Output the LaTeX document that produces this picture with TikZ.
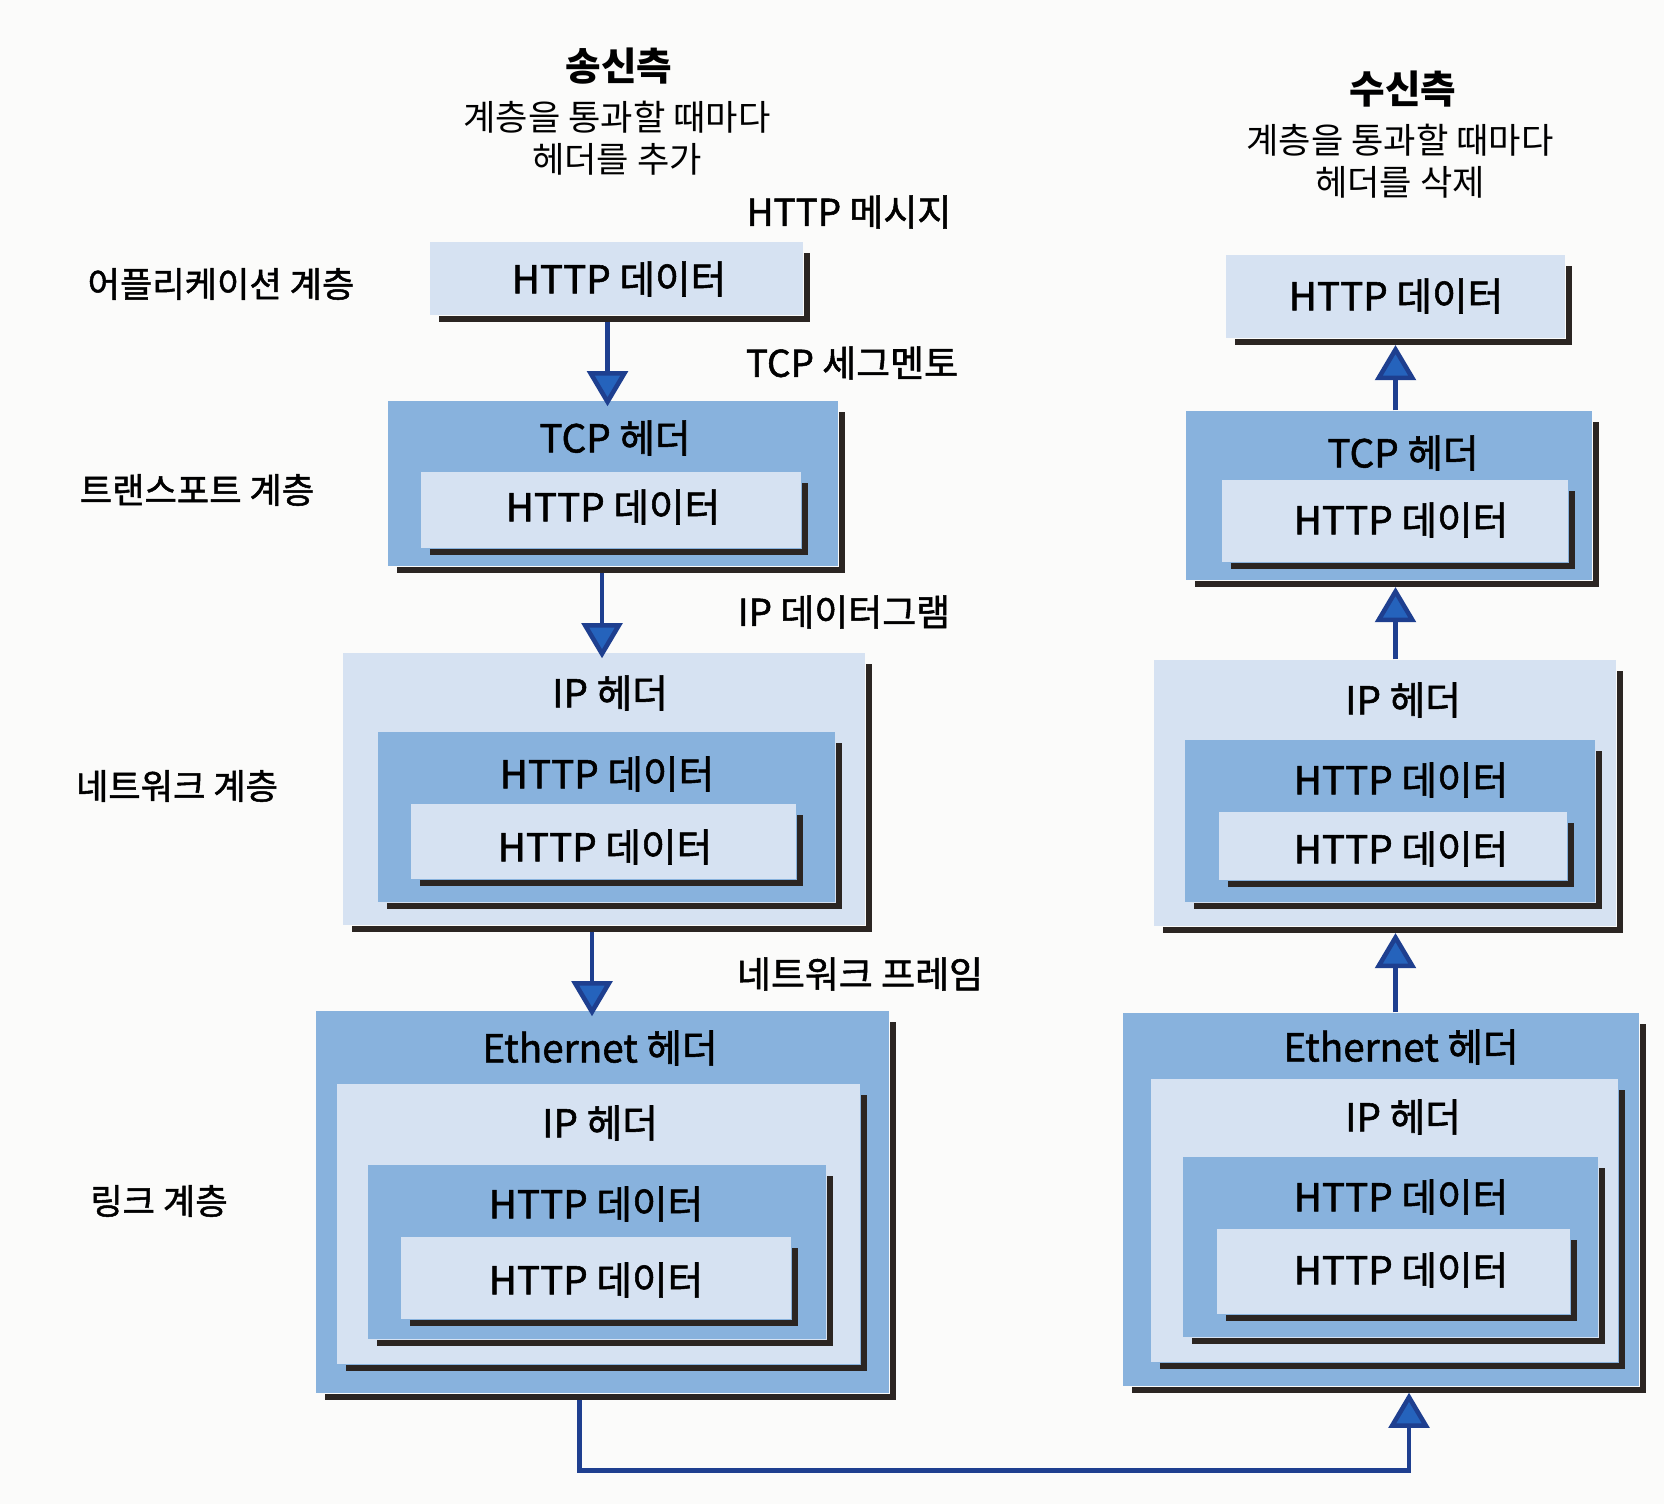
\documentclass[tikz,border=0pt]{standalone}
\usepackage{fontspec}
\setmainfont{Noto Sans CJK KR}
\newfontfamily\heavyfont{Noto Sans CJK KR}[FakeBold=1.4]
\usetikzlibrary{arrows.meta,fit}

\definecolor{midblue}{HTML}{88B2DD}
\definecolor{paleblue}{HTML}{D6E2F2}
\definecolor{shade}{HTML}{2B2522}
\definecolor{wireblue}{HTML}{1E3F8F}
\definecolor{headblue}{HTML}{2563BC}
\definecolor{paper}{HTML}{FBFBFA}

\tikzset{
  midbox/.style={fill=midblue, inner sep=0pt},
  palebox/.style={fill=paleblue, inner sep=0pt},
  shadowline/.style={draw=shade, line width=1.8pt},
  boxtext/.style={font=\heavyfont\fontsize{11}{13}\selectfont},
  layername/.style={font=\heavyfont\fontsize{10}{12}\selectfont},
  pduname/.style={font=\heavyfont\fontsize{10.5}{12}\selectfont},
  sidetitle/.style={font=\fontsize{11}{13}\selectfont\bfseries},
  sidenote/.style={font=\fontsize{10}{12}\selectfont, align=center},
  flow/.style={draw=wireblue, line width=1.3pt,
    -{Triangle[width=11.5pt,length=10pt,fill=headblue]}},
}

% name, style, x1, y1, x2, y2 (pixel units)
\newcommand{\pktbox}[6]{%
  \node[#2, fit={(#3,#4) (#5,#6)}] (#1) {};
  \draw[shadowline] ([shift={(10,3)}]#1.south west) -- ([shift={(3,3)}]#1.south east)
    -- ([shift={(3,12)}]#1.north east);
}

\begin{document}
\begin{tikzpicture}[x=0.01cm, y=-0.01cm]
\fill[paper] (0,0) rectangle (1664,1504);
\useasboundingbox (0,0) rectangle (1664,1504);

% sender side
\node[sidetitle] (stitle) at (619,66) {송신측};
\node[sidenote] (snote) at (617,138) {계층을 통과할 때마다\\헤더를 추가};

\node[layername] (lapp) at (221,284) {어플리케이션 계층};
\node[layername] (ltrans) at (197,490) {트랜스포트 계층};
\node[layername] (lnet) at (177,786) {네트워크 계층};
\node[layername] (llink) at (159,1201) {링크 계층};

\node[pduname] (pmsg) at (849,212) {HTTP 메시지};
\node[pduname] (pseg) at (852,363) {TCP 세그멘토};
\node[pduname] (pdgram) at (844,612) {IP 데이터그램};
\node[pduname] (pframe) at (860,974) {네트워크 프레임};

\pktbox{sapp}{palebox}{430}{242}{803}{315}
\node[boxtext] (sappt) at (619,279) {HTTP 데이터};

\pktbox{stcp}{midbox}{388}{401}{838}{566}
\node[boxtext] (stcph) at (615,438) {TCP 헤더};
\pktbox{stcpd}{palebox}{421}{472}{801}{548}
\node[boxtext] (stcpt) at (613,507) {HTTP 데이터};

\pktbox{sip}{palebox}{343}{653}{865}{925}
\node[boxtext] (siph) at (610,693) {IP 헤더};
\pktbox{sipm}{midbox}{378}{732}{835}{902}
\node[boxtext] (sipmt) at (607,774) {HTTP 데이터};
\pktbox{sipd}{palebox}{411}{804}{796}{879}
\node[boxtext] (sipdt) at (605,847) {HTTP 데이터};

\pktbox{seth}{midbox}{316}{1011}{889}{1393}
\node[boxtext] (setht) at (600,1048) {Ethernet 헤더};
\pktbox{sethi}{palebox}{337}{1084}{860}{1364}
\node[boxtext] (sethih) at (600,1123) {IP 헤더};
\pktbox{sethm}{midbox}{368}{1165}{826}{1339}
\node[boxtext] (sethmt) at (596,1204) {HTTP 데이터};
\pktbox{sethd}{palebox}{401}{1237}{791}{1319}
\node[boxtext] (sethdt) at (596,1280) {HTTP 데이터};

\draw[flow] ([shift={(-9,6)}]sapp.south) -- ([shift={(-9,6)}]sapp.south |- stcp.north);
\draw[flow] ([shift={(-11,6)}]stcp.south) -- ([shift={(-11,6)}]stcp.south |- sip.north);
\draw[flow] ([shift={(-12,6)}]sip.south) -- ([shift={(-12,6)}]sip.south |- seth.north);

% receiver side
\node[sidetitle] (rtitle) at (1403,89) {수신측};
\node[sidenote] (rnote) at (1400,161) {계층을 통과할 때마다\\헤더를 삭제};

\pktbox{rapp}{palebox}{1226}{255}{1565}{338}
\node[boxtext] (rappt) at (1396,296) {HTTP 데이터};

\pktbox{rtcp}{midbox}{1186}{411}{1592}{580}
\node[boxtext] (rtcph) at (1403,453) {TCP 헤더};
\pktbox{rtcpd}{palebox}{1222}{480}{1568}{562}
\node[boxtext] (rtcpt) at (1401,520) {HTTP 데이터};

\pktbox{rip}{palebox}{1154}{660}{1616}{926}
\node[boxtext] (riph) at (1403,700) {IP 헤더};
\pktbox{ripm}{midbox}{1185}{740}{1595}{902}
\node[boxtext] (ripmt) at (1401,780) {HTTP 데이터};
\pktbox{ripd}{palebox}{1219}{812}{1567}{880}
\node[boxtext] (ripdt) at (1401,849) {HTTP 데이터};

\pktbox{reth}{midbox}{1123}{1013}{1639}{1386}
\node[boxtext] (rtht) at (1401,1047) {Ethernet 헤더};
\pktbox{rethi}{palebox}{1151}{1079}{1618}{1362}
\node[boxtext] (rethih) at (1403,1117) {IP 헤더};
\pktbox{rethm}{midbox}{1183}{1157}{1598}{1337}
\node[boxtext] (rethmt) at (1401,1197) {HTTP 데이터};
\pktbox{rethd}{palebox}{1217}{1229}{1570}{1314}
\node[boxtext] (rethdt) at (1401,1270) {HTTP 데이터};

\draw[flow] (rtcp.north -| rapp.south) -- ([yshift=-1.8pt]rapp.south);
\draw[flow] (rip.north -| rapp.south) -- ([yshift=-1.8pt]rtcp.south -| rapp.south);
\draw[flow] (reth.north -| rapp.south) -- ([yshift=-1.8pt]rip.south -| rapp.south);

% link between the two hosts
\draw[flow] ([shift={(-23,6)}]seth.south) -- ++(0,71) -| ([shift={(28,6)}]reth.south);
\end{tikzpicture}
\end{document}
